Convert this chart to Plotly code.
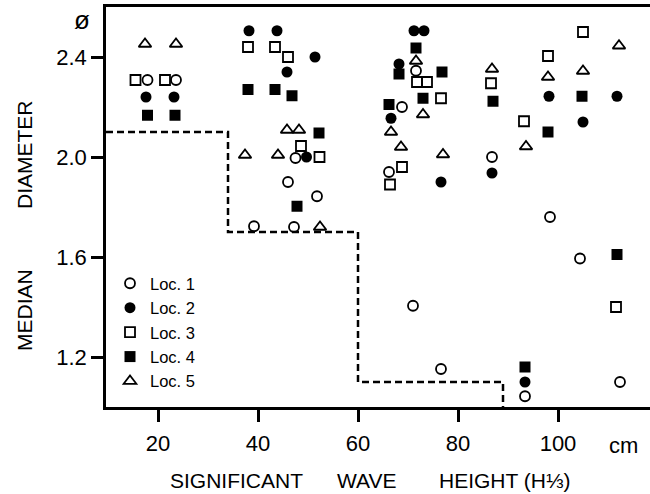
import plotly.graph_objects as go

FONT = "Liberation Sans"

# ---- data ----
loc1_x = [17.9, 23.6, 47.5, 46.0, 51.8, 39.2, 47.2, 68.8, 71.6, 66.2, 71.0, 76.6, 86.8, 93.4, 98.4, 104.4, 112.4]
loc1_y = [2.308, 2.308, 1.996, 1.90, 1.843, 1.723, 1.72, 2.20, 2.345, 1.94, 1.405, 1.152, 2.0, 1.043, 1.76, 1.594, 1.10]

loc2_x = [17.6, 23.2, 38.2, 43.8, 51.4, 45.8, 49.7, 71.2, 73.2, 68.2, 66.6, 76.6, 86.8, 93.4, 98.2, 105.0, 111.8]
loc2_y = [2.24, 2.24, 2.505, 2.505, 2.40, 2.34, 2.0, 2.505, 2.505, 2.372, 2.155, 1.90, 1.936, 1.10, 2.243, 2.14, 2.243]

loc3_x = [15.5, 21.4, 38.0, 43.4, 46.0, 48.6, 52.3, 71.8, 73.8, 76.6, 68.8, 66.4, 86.6, 93.2, 98.0, 105.0, 111.6]
loc3_y = [2.308, 2.308, 2.44, 2.44, 2.40, 2.044, 2.0, 2.30, 2.30, 2.235, 1.96, 1.89, 2.295, 2.143, 2.404, 2.50, 1.40]

loc4_x = [17.9, 23.4, 38.0, 43.4, 46.8, 52.2, 47.8, 71.6, 68.2, 76.8, 73.0, 66.2, 87.0, 93.4, 98.0, 104.8, 111.8]
loc4_y = [2.167, 2.167, 2.27, 2.27, 2.245, 2.096, 1.803, 2.436, 2.332, 2.34, 2.235, 2.21, 2.223, 1.16, 2.10, 2.243, 1.61]

loc5_x = [17.4, 23.6, 45.8, 48.2, 37.4, 44.0, 52.4, 71.6, 73.0, 66.6, 68.6, 77.0, 86.8, 93.6, 98.0, 105.0, 112.2]
loc5_y = [2.452, 2.452, 2.108, 2.108, 2.008, 2.008, 1.72, 2.384, 2.17, 2.10, 2.04, 2.01, 2.352, 2.042, 2.32, 2.344, 2.445]

# dashed boundary (step line)
step_x = [9.6, 34, 34, 60, 60, 89, 89]
step_y = [2.1, 2.1, 1.7, 1.7, 1.1, 1.1, 1.0]

x_ticks = [20, 40, 60, 80, 100]
y_ticks = [1.2, 1.6, 2.0, 2.4]
y_tick_labels = ["1.2", "1.6", "2.0", "2.4"]

series = [
    ("Loc. 1", loc1_x, loc1_y, dict(symbol="circle-open", size=10, color="black", line=dict(width=1.8, color="black"))),
    ("Loc. 2", loc2_x, loc2_y, dict(symbol="circle", size=11, color="black", line=dict(width=0))),
    ("Loc. 3", loc3_x, loc3_y, dict(symbol="square-open", size=10, color="black", line=dict(width=1.8, color="black"))),
    ("Loc. 4", loc4_x, loc4_y, dict(symbol="square", size=11, color="black", line=dict(width=0))),
    ("Loc. 5", loc5_x, loc5_y, dict(symbol="triangle-up-open", size=11, color="black", line=dict(width=1.8, color="black"))),
]

fig = go.Figure()
fig.add_trace(go.Scatter(x=step_x, y=step_y, mode="lines", showlegend=False,
                         line=dict(color="black", width=2.5, dash="7px,4px"), hoverinfo="skip"))
for name, xs, ys, mk in series:
    fig.add_trace(go.Scatter(x=xs, y=ys, mode="markers", name=name, marker=mk))

W, H = 650, 494
L, R, T, B = 106, 0, 7, 87
pw, ph = W - L - R, H - T - B

def px(xpix):
    return (xpix - L) / pw

def py(ypix):
    return (H - B - ypix) / ph

fig.update_layout(
    width=W, height=H,
    margin=dict(l=L, r=R, t=T, b=B, pad=0),
    paper_bgcolor="white", plot_bgcolor="white",
    font=dict(family=FONT, color="black", size=21),
    showlegend=True,
    legend=dict(x=px(110), y=py(266), xanchor="left", yanchor="top",
                bgcolor="rgba(0,0,0,0)", font=dict(size=16.5, family=FONT),
                itemwidth=30, tracegroupgap=0),
    xaxis=dict(range=[9.6, 118.4], tickvals=x_ticks, ticks="outside", ticklen=12, tickwidth=2.5,
               tickcolor="black", showline=True, linewidth=2.5, linecolor="black", mirror=True,
               showgrid=False, zeroline=False, ticklabelstandoff=3,
               tickfont=dict(size=22, family=FONT)),
    yaxis=dict(range=[1.0, 2.6], tickvals=y_ticks, ticktext=y_tick_labels, ticks="outside", ticklen=12,
               tickwidth=2.5, tickcolor="black", showline=True, linewidth=2.5, linecolor="black",
               mirror=False, showgrid=False, zeroline=False,
               tickfont=dict(size=22, family=FONT)),
)

ann = [
    dict(text="SIGNIFICANT", x=px(236), y=py(480), size=21),
    dict(text="WAVE", x=px(367), y=py(480), size=21),
    dict(text="HEIGHT (H⅓)", x=px(504), y=py(480), size=21),
    dict(text="cm", x=px(623), y=py(446), size=22),
    dict(text="ø", x=px(82), y=py(20), size=26),
    dict(text="DIAMETER", x=px(24), y=py(155), size=21, textangle=-90),
    dict(text="MEDIAN", x=px(24), y=py(310), size=21, textangle=-90),
]
for a in ann:
    size = a.pop("size")
    fig.add_annotation(xref="paper", yref="paper", showarrow=False, xanchor="center", yanchor="middle",
                       font=dict(size=size, family=FONT, color="black"), **a)

fig.write_html("out.html")
